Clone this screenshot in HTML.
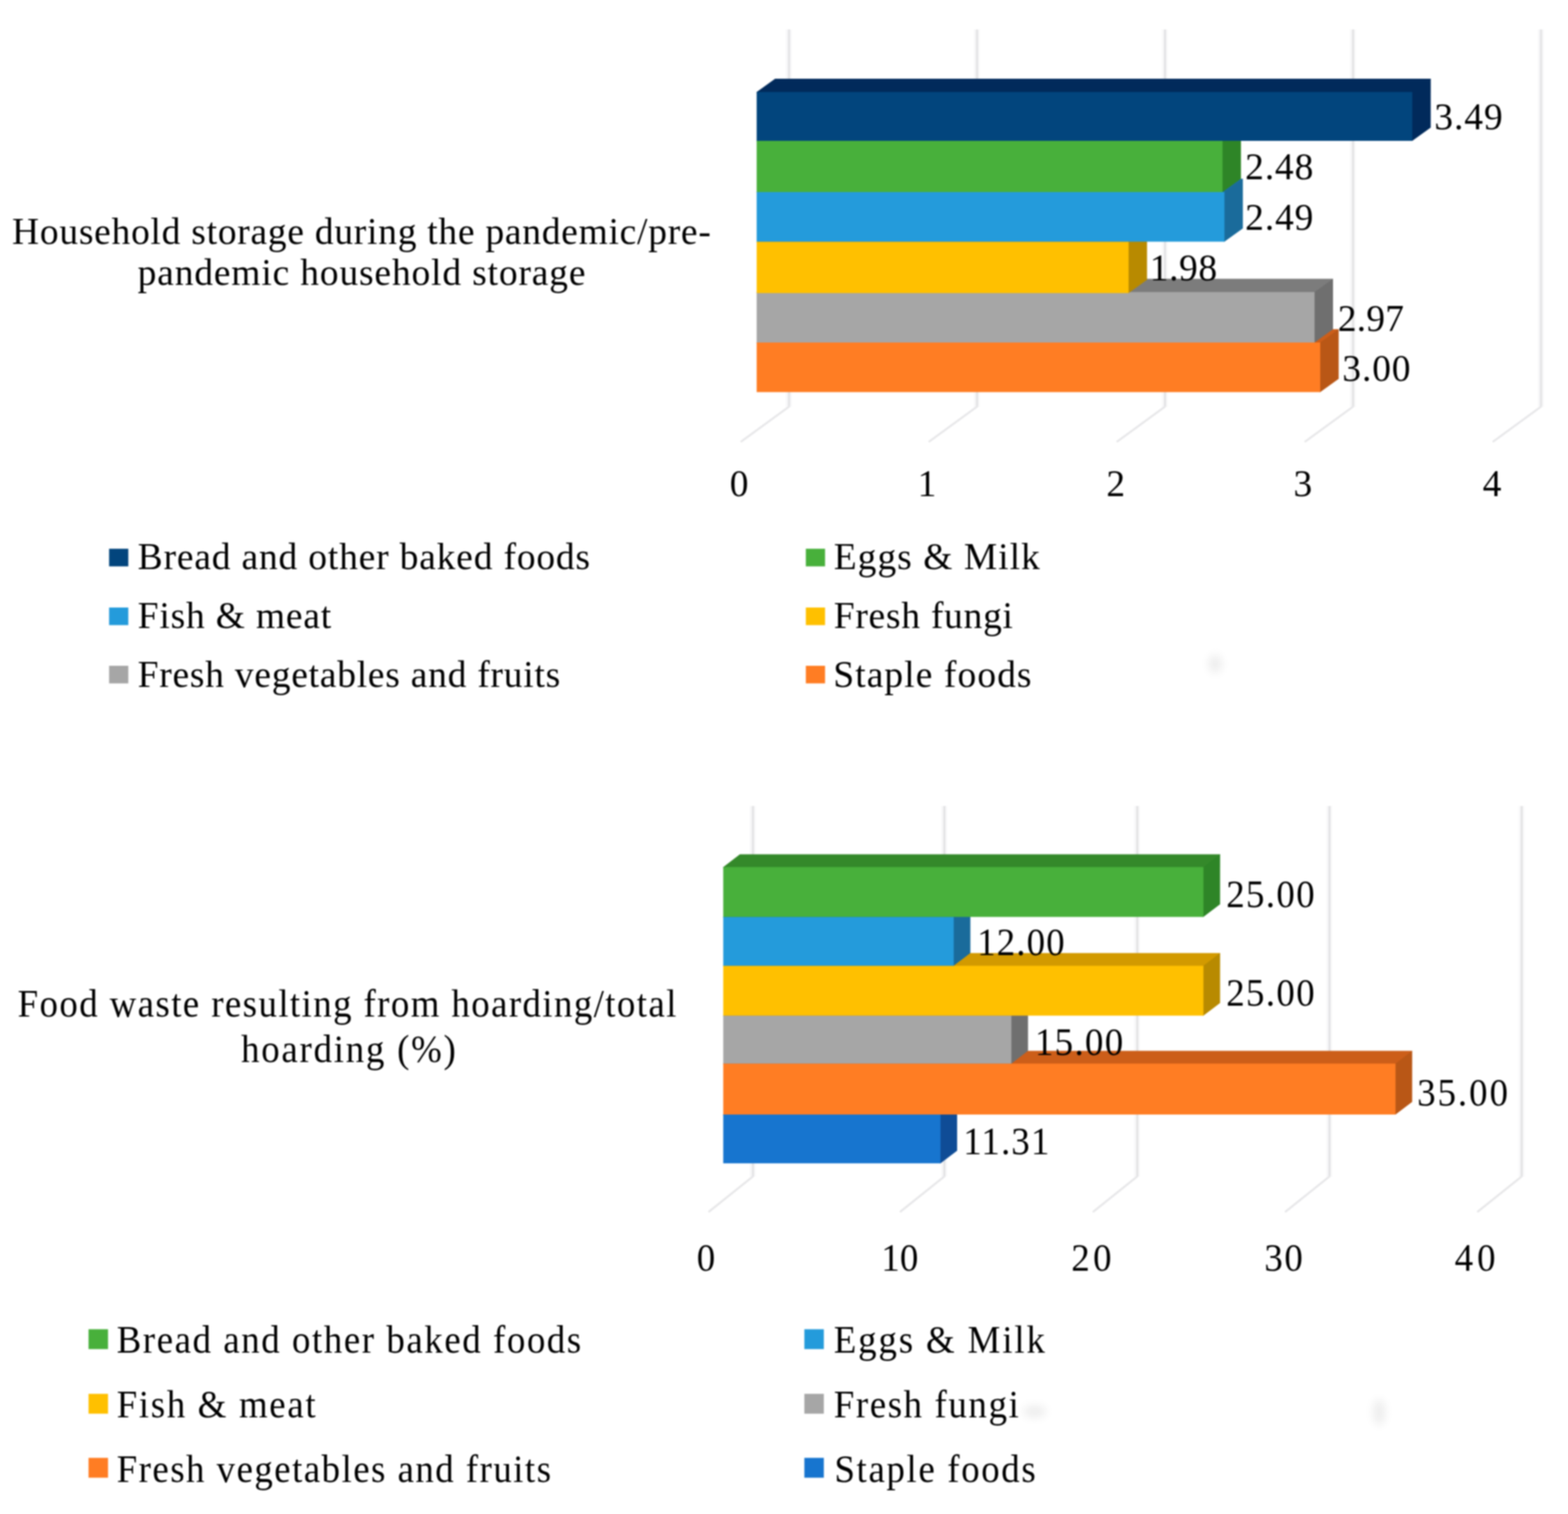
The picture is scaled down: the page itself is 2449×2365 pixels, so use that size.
<!DOCTYPE html>
<html lang="en">
<head>
<meta charset="utf-8">
<title>Household storage and food waste charts</title>
<style>
html,body{margin:0;padding:0;background:#fff;}
body{width:2449px;height:2365px;}
#chart{width:2449px;height:2365px;overflow:hidden;position:relative;background:#fff;}
svg{display:block;filter:blur(0.9px);}
svg text{font-family:"Liberation Serif","DejaVu Serif",serif;fill:#000;}

</style>
</head>
<body>
<div id="chart">
<svg width="2449" height="2365" viewBox="0 0 2449 2365">
<rect width="2449" height="2365" fill="#ffffff"/>
<defs><filter id="soft" x="-50%" y="-50%" width="200%" height="200%"><feGaussianBlur stdDeviation="7"/></filter></defs>
<g id="smudges" filter="url(#soft)" fill="#ececec">
<ellipse cx="1616" cy="2205" rx="18" ry="9"/>
<ellipse cx="2154" cy="2206" rx="9" ry="20"/>
<ellipse cx="1898" cy="1037" rx="10" ry="14"/>
</g>
<g id="shapes">
<path d="M1232.0 46.0 V635.5" fill="none" stroke="#f8f8f9" stroke-width="9"/>
<path d="M1232.4 46.0 V635.5" fill="none" stroke="#e3e3e5" stroke-width="3.2"/>
<path d="M1232.0 635.5 L1158.0 689.5" fill="none" stroke="#e7e7e9" stroke-width="3.2" stroke-linecap="round"/>
<path d="M1525.6 46.0 V635.5" fill="none" stroke="#f8f8f9" stroke-width="9"/>
<path d="M1526.0 46.0 V635.5" fill="none" stroke="#e3e3e5" stroke-width="3.2"/>
<path d="M1525.6 635.5 L1451.6 689.5" fill="none" stroke="#e7e7e9" stroke-width="3.2" stroke-linecap="round"/>
<path d="M1819.2 46.0 V635.5" fill="none" stroke="#f8f8f9" stroke-width="9"/>
<path d="M1819.6 46.0 V635.5" fill="none" stroke="#e3e3e5" stroke-width="3.2"/>
<path d="M1819.2 635.5 L1745.2 689.5" fill="none" stroke="#e7e7e9" stroke-width="3.2" stroke-linecap="round"/>
<path d="M2112.9 46.0 V635.5" fill="none" stroke="#f8f8f9" stroke-width="9"/>
<path d="M2113.3 46.0 V635.5" fill="none" stroke="#e3e3e5" stroke-width="3.2"/>
<path d="M2112.9 635.5 L2038.9 689.5" fill="none" stroke="#e7e7e9" stroke-width="3.2" stroke-linecap="round"/>
<path d="M2406.5 46.0 V635.5" fill="none" stroke="#f8f8f9" stroke-width="9"/>
<path d="M2406.9 46.0 V635.5" fill="none" stroke="#e3e3e5" stroke-width="3.2"/>
<path d="M2406.5 635.5 L2332.5 689.5" fill="none" stroke="#e7e7e9" stroke-width="3.2" stroke-linecap="round"/>
<polygon points="1181.8,535.0 1210.6,514.2 2090.8,514.2 2090.0,516.4 2061.0,536.8 1181.8,536.0" fill="#cc5e19"/>
<polygon points="2061.0,535.8 2062.0,535.0 2090.8,514.2 2090.8,591.7 2062.0,612.5 2061.0,612.5" fill="#b95716"/>
<rect x="1181.8" y="535.0" width="880.2" height="77.5" fill="#ff7d23"/>
<polygon points="1181.8,456.2 1210.6,435.4 2082.0,435.4 2081.2,437.6 2052.2,458.0 1181.8,457.2" fill="#7c7c7c"/>
<polygon points="2052.2,457.0 2053.2,456.2 2082.0,435.4 2082.0,514.2 2053.2,535.0 2052.2,535.0" fill="#6f6f6f"/>
<rect x="1181.8" y="456.2" width="871.4" height="78.8" fill="#a6a6a6"/>
<polygon points="1181.8,377.5 1210.6,356.7 1791.5,356.7 1790.7,358.9 1761.7,379.3 1181.8,378.5" fill="#d29a00"/>
<polygon points="1761.7,378.3 1762.7,377.5 1791.5,356.7 1791.5,437.0 1762.7,457.8 1761.7,457.8" fill="#b88a00"/>
<rect x="1181.8" y="377.5" width="580.9" height="80.3" fill="#ffc000"/>
<polygon points="1181.8,300.0 1210.6,279.2 1941.2,279.2 1940.4,281.4 1911.4,301.8 1181.8,301.0" fill="#1a6fa0"/>
<polygon points="1911.4,300.8 1912.4,300.0 1941.2,279.2 1941.2,356.7 1912.4,377.5 1911.4,377.5" fill="#1a6b9b"/>
<rect x="1181.8" y="300.0" width="730.6" height="77.5" fill="#249bdb"/>
<polygon points="1181.8,220.0 1210.6,199.2 1938.2,199.2 1937.4,201.4 1908.4,221.8 1181.8,221.0" fill="#34892a"/>
<polygon points="1908.4,220.8 1909.4,220.0 1938.2,199.2 1938.2,279.2 1909.4,300.0 1908.4,300.0" fill="#2e8527"/>
<rect x="1181.8" y="220.0" width="727.6" height="80.0" fill="#48b03b"/>
<polygon points="1181.8,143.7 1210.6,122.9 2234.6,122.9 2233.8,125.1 2204.8,145.5 1181.8,144.7" fill="#012a5b"/>
<polygon points="2204.8,144.5 2205.8,143.7 2234.6,122.9 2234.6,199.2 2205.8,220.0 2204.8,220.0" fill="#012a5b"/>
<rect x="1181.8" y="143.7" width="1024.0" height="76.3" fill="#02457d"/>
<path d="M1175.6 1259.0 V1838.0" fill="none" stroke="#f8f8f9" stroke-width="9"/>
<path d="M1176.0 1259.0 V1838.0" fill="none" stroke="#e3e3e5" stroke-width="3.2"/>
<path d="M1175.6 1838.0 L1107.6 1892.5" fill="none" stroke="#e7e7e9" stroke-width="3.2" stroke-linecap="round"/>
<path d="M1474.6 1259.0 V1838.0" fill="none" stroke="#f8f8f9" stroke-width="9"/>
<path d="M1475.0 1259.0 V1838.0" fill="none" stroke="#e3e3e5" stroke-width="3.2"/>
<path d="M1474.6 1838.0 L1406.6 1892.5" fill="none" stroke="#e7e7e9" stroke-width="3.2" stroke-linecap="round"/>
<path d="M1775.9 1259.0 V1838.0" fill="none" stroke="#f8f8f9" stroke-width="9"/>
<path d="M1776.3 1259.0 V1838.0" fill="none" stroke="#e3e3e5" stroke-width="3.2"/>
<path d="M1775.9 1838.0 L1707.9 1892.5" fill="none" stroke="#e7e7e9" stroke-width="3.2" stroke-linecap="round"/>
<path d="M2076.1 1259.0 V1838.0" fill="none" stroke="#f8f8f9" stroke-width="9"/>
<path d="M2076.5 1259.0 V1838.0" fill="none" stroke="#e3e3e5" stroke-width="3.2"/>
<path d="M2076.1 1838.0 L2008.1 1892.5" fill="none" stroke="#e7e7e9" stroke-width="3.2" stroke-linecap="round"/>
<path d="M2376.3 1259.0 V1838.0" fill="none" stroke="#f8f8f9" stroke-width="9"/>
<path d="M2376.7 1259.0 V1838.0" fill="none" stroke="#e3e3e5" stroke-width="3.2"/>
<path d="M2376.3 1838.0 L2308.3 1892.5" fill="none" stroke="#e7e7e9" stroke-width="3.2" stroke-linecap="round"/>
<polygon points="1129.6,1741.0 1155.6,1721.2 1494.9,1721.2 1494.1,1723.4 1467.9,1742.8 1129.6,1742.0" fill="#0f4c96"/>
<polygon points="1467.9,1741.8 1468.9,1741.0 1494.9,1721.2 1494.9,1797.4 1468.9,1817.2 1467.9,1817.2" fill="#0f4c96"/>
<rect x="1129.6" y="1741.0" width="339.3" height="76.2" fill="#1775cf"/>
<polygon points="1129.6,1661.4 1155.6,1641.6 2205.6,1641.6 2204.8,1643.8 2178.6,1663.2 1129.6,1662.4" fill="#cc5e19"/>
<polygon points="2178.6,1662.2 2179.6,1661.4 2205.6,1641.6 2205.6,1721.2 2179.6,1741.0 2178.6,1741.0" fill="#b95716"/>
<rect x="1129.6" y="1661.4" width="1050.0" height="79.6" fill="#ff7d23"/>
<polygon points="1129.6,1586.5 1155.6,1566.7 1605.6,1566.7 1604.8,1568.9 1578.6,1588.3 1129.6,1587.5" fill="#7c7c7c"/>
<polygon points="1578.6,1587.3 1579.6,1586.5 1605.6,1566.7 1605.6,1641.6 1579.6,1661.4 1578.6,1661.4" fill="#6f6f6f"/>
<rect x="1129.6" y="1586.5" width="450.0" height="74.9" fill="#a6a6a6"/>
<polygon points="1129.6,1508.6 1155.6,1488.8 1905.6,1488.8 1904.8,1491.0 1878.6,1510.4 1129.6,1509.6" fill="#d29a00"/>
<polygon points="1878.6,1509.4 1879.6,1508.6 1905.6,1488.8 1905.6,1566.7 1879.6,1586.5 1878.6,1586.5" fill="#b88a00"/>
<rect x="1129.6" y="1508.6" width="750.0" height="77.9" fill="#ffc000"/>
<polygon points="1129.6,1432.3 1155.6,1412.5 1515.6,1412.5 1514.8,1414.7 1488.6,1434.1 1129.6,1433.3" fill="#1a6fa0"/>
<polygon points="1488.6,1433.1 1489.6,1432.3 1515.6,1412.5 1515.6,1488.8 1489.6,1508.6 1488.6,1508.6" fill="#1a6b9b"/>
<rect x="1129.6" y="1432.3" width="360.0" height="76.3" fill="#249bdb"/>
<polygon points="1129.6,1354.4 1155.6,1334.6 1905.6,1334.6 1904.8,1336.8 1878.6,1356.2 1129.6,1355.4" fill="#34892a"/>
<polygon points="1878.6,1355.2 1879.6,1354.4 1905.6,1334.6 1905.6,1412.5 1879.6,1432.3 1878.6,1432.3" fill="#2e8527"/>
<rect x="1129.6" y="1354.4" width="750.0" height="77.9" fill="#48b03b"/>
<rect x="170.4" y="857.2" width="30" height="27.5" fill="#02457d"/>
<rect x="170.4" y="949.0" width="30" height="27.5" fill="#249bdb"/>
<rect x="170.4" y="1040.0" width="30" height="27.5" fill="#a6a6a6"/>
<rect x="1258.6" y="857.2" width="30" height="27.5" fill="#48b03b"/>
<rect x="1258.6" y="949.0" width="30" height="27.5" fill="#ffc000"/>
<rect x="1258.6" y="1040.0" width="30" height="27.5" fill="#ff7d23"/>
<rect x="138.3" y="2076.4" width="30.4" height="31" fill="#48b03b"/>
<rect x="138.3" y="2177.3" width="30.4" height="31" fill="#ffc000"/>
<rect x="138.3" y="2277.3" width="30.4" height="31" fill="#ff7d23"/>
<rect x="1256.3" y="2076.4" width="30.4" height="31" fill="#249bdb"/>
<rect x="1256.3" y="2177.3" width="30.4" height="31" fill="#a6a6a6"/>
<rect x="1256.3" y="2277.3" width="30.4" height="31" fill="#1775cf"/>
</g>
<g id="labels">
<text x="2240.25" y="201.60" font-size="58.50" letter-spacing="1.483">3.49</text>
<text x="1944.80" y="280.20" font-size="58.50" letter-spacing="1.350">2.48</text>
<text x="1944.80" y="359.00" font-size="58.50" letter-spacing="1.400">2.49</text>
<text class="onbar" x="1795.65" y="437.60" font-size="58.50" letter-spacing="1.033">1.98</text>
<text x="2089.50" y="516.60" font-size="58.50" letter-spacing="0.250">2.97</text>
<text x="2096.55" y="595.40" font-size="58.50" letter-spacing="1.367">3.00</text>
<text x="1139.85" y="775.20" font-size="58.50" letter-spacing="0.000">0</text>
<text x="1433.35" y="775.20" font-size="58.50" letter-spacing="0.000">1</text>
<text x="1727.90" y="775.20" font-size="58.50" letter-spacing="0.000">2</text>
<text x="2020.15" y="775.20" font-size="58.50" letter-spacing="0.000">3</text>
<text x="2315.75" y="775.20" font-size="58.50" letter-spacing="0.000">4</text>
<text x="18.85" y="381.00" font-size="58.50" letter-spacing="1.180">Household storage during the pandemic/pre-</text>
<text x="215.00" y="444.80" font-size="58.50" letter-spacing="1.332">pandemic household storage</text>
<text x="215.05" y="889.20" font-size="58.50" letter-spacing="1.310">Bread and other baked foods</text>
<text x="215.05" y="981.40" font-size="58.50" letter-spacing="1.295">Fish &amp; meat</text>
<text x="215.05" y="1073.40" font-size="58.50" letter-spacing="1.198">Fresh vegetables and fruits</text>
<text x="1302.25" y="889.20" font-size="58.50" letter-spacing="1.625">Eggs &amp; Milk</text>
<text x="1302.25" y="981.40" font-size="58.50" letter-spacing="1.175">Fresh fungi</text>
<text x="1301.50" y="1073.40" font-size="58.50" letter-spacing="1.705">Staple foods</text>
<text transform="translate(1915.20 1417.20) scale(0.930 1)" font-size="62.00" letter-spacing="2.231">25.00</text>
<text class="onbar" transform="translate(1526.20 1492.40) scale(0.930 1)" font-size="62.00" letter-spacing="1.882">12.00</text>
<text transform="translate(1915.20 1571.40) scale(0.930 1)" font-size="62.00" letter-spacing="2.231">25.00</text>
<text class="onbar" transform="translate(1616.40 1647.80) scale(0.930 1)" font-size="62.00" letter-spacing="2.204">15.00</text>
<text transform="translate(2213.45 1726.50) scale(0.930 1)" font-size="62.00" letter-spacing="3.239">35.00</text>
<text transform="translate(1504.40 1803.00) scale(0.930 1)" font-size="62.00" letter-spacing="1.882">11.31</text>
<text transform="translate(1088.15 1985.40) scale(0.930 1)" font-size="62.00" letter-spacing="0.000">0</text>
<text transform="translate(1376.40 1985.40) scale(0.930 1)" font-size="62.00" letter-spacing="0.215">10</text>
<text transform="translate(1673.20 1985.40) scale(0.930 1)" font-size="62.00" letter-spacing="5.591">20</text>
<text transform="translate(1974.65 1985.40) scale(0.930 1)" font-size="62.00" letter-spacing="2.849">30</text>
<text transform="translate(2272.05 1985.40) scale(0.930 1)" font-size="62.00" letter-spacing="6.613">40</text>
<text transform="translate(27.55 1588.30) scale(0.930 1)" font-size="62.00" letter-spacing="2.323">Food waste resulting from hoarding/total</text>
<text transform="translate(376.50 1659.00) scale(0.930 1)" font-size="62.00" letter-spacing="2.908">hoarding (%)</text>
<text transform="translate(182.25 2112.60) scale(0.930 1)" font-size="62.00" letter-spacing="2.597">Bread and other baked foods</text>
<text transform="translate(182.25 2213.70) scale(0.930 1)" font-size="62.00" letter-spacing="2.753">Fish &amp; meat</text>
<text transform="translate(182.25 2314.70) scale(0.930 1)" font-size="62.00" letter-spacing="2.430">Fresh vegetables and fruits</text>
<text transform="translate(1302.15 2112.60) scale(0.930 1)" font-size="62.00" letter-spacing="3.102">Eggs &amp; Milk</text>
<text transform="translate(1302.15 2213.70) scale(0.930 1)" font-size="62.00" letter-spacing="2.672">Fresh fungi</text>
<text transform="translate(1303.25 2314.70) scale(0.930 1)" font-size="62.00" letter-spacing="2.713">Staple foods</text>
</g>
</svg>
</div>
</body>
</html>
